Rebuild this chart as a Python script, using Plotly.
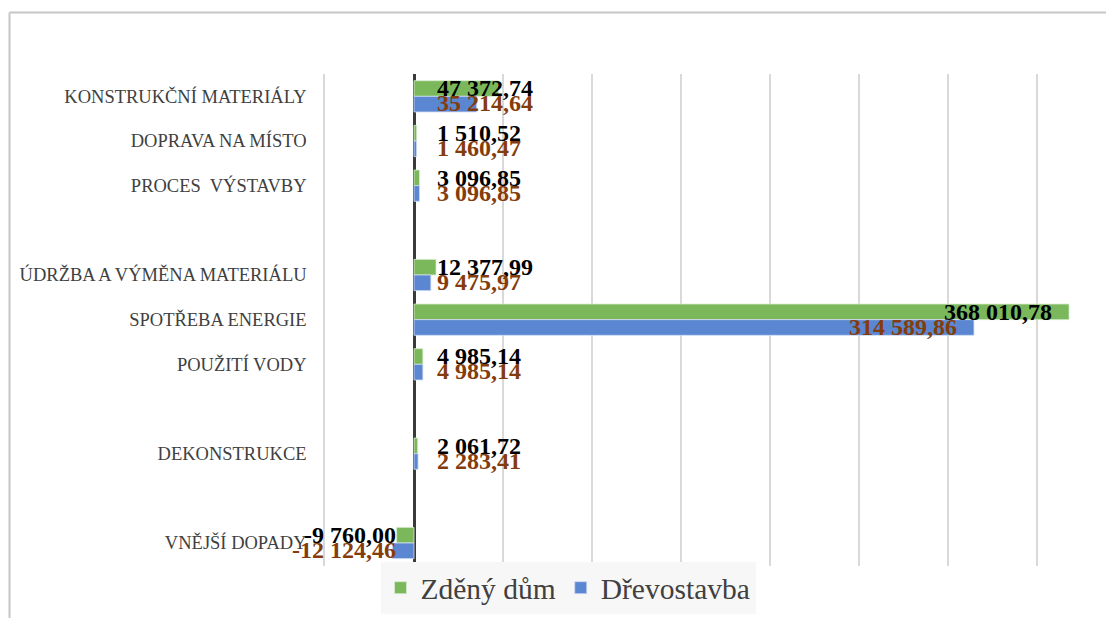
import plotly.graph_objects as go

# categories top-to-bottom; blank strings are the empty spacer rows of the original chart
categories = [
    "KONSTRUKČNÍ MATERIÁLY",
    "DOPRAVA NA MÍSTO",
    "PROCES  VÝSTAVBY",
    " ",
    "ÚDRŽBA A VÝMĚNA MATERIÁLU",
    "SPOTŘEBA ENERGIE",
    "POUŽITÍ VODY",
    "  ",
    "DEKONSTRUKCE",
    "   ",
    "VNĚJŠÍ DOPADY",
]
zdeny_dum = [47372.74, 1510.52, 3096.85, None, 12377.99, 368010.78, 4985.14, None, 2061.72, None, -9760.00]
drevostavba = [35214.64, 1460.47, 3096.85, None, 9475.97, 314589.86, 4985.14, None, 2283.41, None, -12124.46]

GREEN = "#7AB85B"
BLUE = "#5A86D2"
BROWN = "#843C0C"
SERIF = "Liberation Serif"

# the page body has an 8px margin, so the figure is sized to fill the rest of the window
OFF = 8
W, H = 1114 - OFF, 618 - OFF
# plot-area edges in page pixels
PLOT_L, PLOT_R, PLOT_T, PLOT_B = 325, 1114, 74, 566


def cz(v):
    """Czech number format: space thousands, comma decimals."""
    return f"{v:,.2f}".replace(",", " ").replace(".", ",")


def px_x(x):
    return (x - PLOT_L) / (PLOT_R - PLOT_L)


def px_y(y):
    return (PLOT_B - y) / (PLOT_B - PLOT_T)


fig = go.Figure()
fig.add_trace(go.Bar(y=categories, x=zdeny_dum, orientation="h", name="Zděný dům",
                     marker={"color": GREEN, "line": {"color": "#d8ecd0", "width": 0.8}}))
fig.add_trace(go.Bar(y=categories, x=drevostavba, orientation="h", name="Dřevostavba",
                     marker={"color": BLUE, "line": {"color": "#d0dcf2", "width": 0.8}}))

annotations = []
for values, color, yshift in ((zdeny_dum, "#000000", 8), (drevostavba, BROWN, -7)):
    for cat, v in zip(categories, values):
        if v is None:
            continue
        if v < 0:
            x, anchor, xshift = 0, "right", -16
        elif v > 100000:
            x, anchor, xshift = v, "right", -15
        else:
            x, anchor, xshift = 0, "left", 21
        annotations.append(dict(
            x=x, y=cat, xref="x", yref="y", text=f"<b>{cz(v)}</b>", showarrow=False,
            xanchor=anchor, yanchor="middle", xshift=xshift, yshift=yshift,
            font={"family": SERIF, "size": 24, "color": color},
        ))

fig.update_layout(
    width=W, height=H,
    margin={"l": PLOT_L - OFF, "r": 0, "t": PLOT_T - OFF, "b": H - (PLOT_B - OFF), "pad": 0},
    paper_bgcolor="white", plot_bgcolor="white",
    barmode="group", bargap=0.3, bargroupgap=0,
    font={"family": SERIF, "color": "#404040"},
    annotations=annotations,
    showlegend=True,
    legend={
        "orientation": "h", "x": px_x(568), "xanchor": "center",
        "y": px_y(562), "yanchor": "top",
        "bgcolor": "#f7f7f7", "font": {"family": SERIF, "size": 29.5, "color": "#404040"},
        "traceorder": "normal",
    },
    shapes=[
        # outer chart frame (top and left edges visible)
        {"type": "line", "xref": "paper", "yref": "paper",
         "x0": px_x(9.5), "x1": px_x(1120), "y0": px_y(12.5), "y1": px_y(12.5),
         "line": {"color": "#c6c6c6", "width": 2}},
        {"type": "line", "xref": "paper", "yref": "paper",
         "x0": px_x(9.5), "x1": px_x(9.5), "y0": px_y(12.5), "y1": px_y(625),
         "line": {"color": "#c6c6c6", "width": 2}},
    ],
)
fig.update_xaxes(
    range=[-50000, -50000 + (PLOT_R - PLOT_L) * 50000 / 89],
    dtick=50000, tick0=0, showticklabels=False,
    showgrid=True, gridcolor="#d9d9d9", gridwidth=1.5,
    zeroline=True, zerolinecolor="#3a3a3a", zerolinewidth=3,
    fixedrange=True,
)
fig.update_yaxes(
    type="category", categoryorder="array", categoryarray=categories,
    autorange="reversed", showgrid=False, zeroline=False,
    showline=True, linecolor="#d9d9d9", linewidth=1.5,
    ticks="", ticklabelstandoff=13,
    tickfont={"family": SERIF, "size": 18.5, "color": "#404040"},
)

fig.write_html("out.html")
